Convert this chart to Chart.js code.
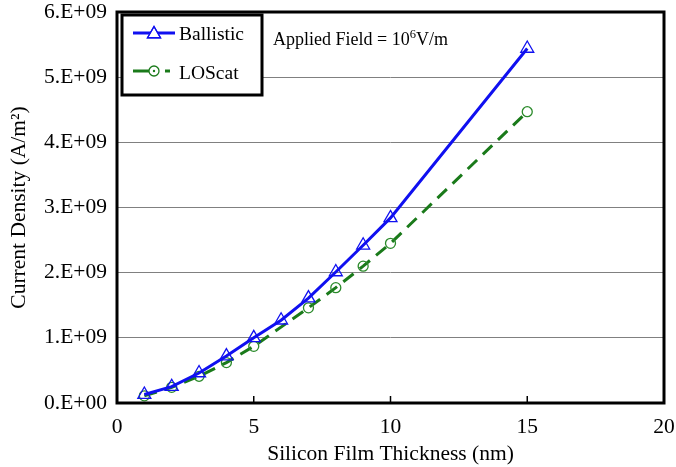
<!DOCTYPE html>
<html>
<head>
<meta charset="utf-8">
<script src="https://cdn.jsdelivr.net/npm/chart.js@4/dist/chart.umd.min.js"></script>
<style>
  html, body { margin: 0; padding: 0; background: #fff; }
  #wrap { width: 676px; height: 467px; position: relative; }
</style>
</head>
<body>
<div id="wrap"><canvas id="c" width="676" height="467"></canvas></div>
<script>
// Data
const ballisticThickness = [1, 2, 3, 4, 5, 6, 7, 8, 9, 10, 15];
const ballisticValues = [0.13e9, 0.25e9, 0.46e9, 0.72e9, 1.00e9, 1.27e9, 1.61e9, 2.01e9, 2.42e9, 2.84e9, 5.44e9];
const loscatThickness = [1, 2, 3, 4, 5, 7, 8, 9, 10, 15];
const loscatValues = [0.11e9, 0.24e9, 0.41e9, 0.62e9, 0.87e9, 1.46e9, 1.77e9, 2.10e9, 2.45e9, 4.47e9];
const xTickValues = [0, 5, 10, 15, 20];
const yTickLabels = ['0.E+00', '1.E+09', '2.E+09', '3.E+09', '4.E+09', '5.E+09', '6.E+09'];
const seriesNames = ['Ballistic', 'LOScat'];
const xTitle = 'Silicon Film Thickness (nm)';
const yTitle = 'Current Density (A/m\u00B2)';
const annotationMain = 'Applied Field = 10';
const annotationSup = '6';
const annotationTail = 'V/m';

const BLUE = '#1010f0';
const GREEN = '#1a7a1a';
const FONT = '"Liberation Serif", "Times New Roman", serif';

const toPoints = (xs, ys) => xs.map((x, i) => ({ x: x, y: ys[i] }));

const framePlugin = {
  id: 'frame',
  afterDraw(chart) {
    const { ctx, chartArea: a, scales } = chart;
    ctx.save();
    // inward x ticks
    ctx.strokeStyle = '#000';
    ctx.lineWidth = 1.5;
    xTickValues.slice(1, -1).forEach(v => {
      const px = scales.x.getPixelForValue(v);
      ctx.beginPath();
      ctx.moveTo(px, a.bottom);
      ctx.lineTo(px, a.bottom - 7);
      ctx.stroke();
    });
    // frame
    ctx.lineWidth = 3;
    ctx.strokeRect(a.left, a.top, a.right - a.left, a.bottom - a.top);

    // legend box
    const lx = a.left + 5, ly = a.top + 3, lw = 140, lh = 80;
    ctx.fillStyle = '#fff';
    ctx.fillRect(lx, ly, lw, lh);
    ctx.lineWidth = 3;
    ctx.strokeStyle = '#000';
    ctx.strokeRect(lx, ly, lw, lh);

    // Ballistic entry
    const y1 = ly + 18;
    ctx.strokeStyle = BLUE;
    ctx.lineWidth = 3;
    ctx.beginPath(); ctx.moveTo(lx + 11, y1); ctx.lineTo(lx + 53, y1); ctx.stroke();
    ctx.lineWidth = 1.3;
    Chart.helpers.drawPoint(ctx, { pointStyle: 'triangle', radius: 7.5, rotation: 0, borderWidth: 1.3 }, lx + 32, y1 + 1);
    ctx.stroke();
    // LOScat entry
    const y2 = ly + 56;
    ctx.strokeStyle = GREEN;
    ctx.lineWidth = 3;
    ctx.beginPath(); ctx.moveTo(lx + 11, y2); ctx.lineTo(lx + 27, y2); ctx.stroke();
    ctx.beginPath(); ctx.moveTo(lx + 43, y2); ctx.lineTo(lx + 48, y2); ctx.stroke();
    ctx.lineWidth = 1.3;
    ctx.beginPath(); ctx.arc(lx + 32, y2, 5, 0, Math.PI * 2); ctx.stroke();
    ctx.fillStyle = GREEN;
    ctx.beginPath(); ctx.arc(lx + 32, y2, 1.2, 0, Math.PI * 2); ctx.fill();

    ctx.fillStyle = '#000';
    ctx.font = '19.5px ' + FONT;
    ctx.textBaseline = 'alphabetic';
    ctx.textAlign = 'left';
    ctx.fillText(seriesNames[0], lx + 57, y1 + 7);
    ctx.fillText(seriesNames[1], lx + 57, y2 + 8);

    // annotation
    const ax = 273, ay = 45;
    ctx.font = '18px ' + FONT;
    ctx.fillText(annotationMain, ax, ay);
    let w = ctx.measureText(annotationMain).width;
    ctx.font = '12.5px ' + FONT;
    ctx.fillText(annotationSup, ax + w, ay - 7);
    w += ctx.measureText(annotationSup).width;
    ctx.font = '18px ' + FONT;
    ctx.fillText(annotationTail, ax + w, ay);
    ctx.restore();
  }
};

new Chart(document.getElementById('c'), {
  type: 'line',
  data: {
    datasets: [
      {
        label: seriesNames[0],
        data: toPoints(ballisticThickness, ballisticValues),
        borderColor: BLUE,
        borderWidth: 3,
        pointStyle: 'triangle',
        pointRadius: 7.5,
        pointBorderWidth: 1.3,
        pointBorderColor: BLUE,
        pointBackgroundColor: 'rgba(0,0,0,0)',
        tension: 0,
        fill: false
      },
      {
        label: seriesNames[1],
        data: toPoints(loscatThickness, loscatValues),
        borderColor: GREEN,
        borderWidth: 3,
        borderDash: [13, 8],
        pointStyle: 'circle',
        pointRadius: 5,
        pointBorderWidth: 1.3,
        pointBorderColor: '#2a8a2a',
        pointBackgroundColor: 'rgba(0,0,0,0)',
        tension: 0,
        fill: false
      }
    ]
  },
  plugins: [framePlugin],
  options: {
    responsive: false,
    animation: false,
    devicePixelRatio: 1,
    layout: { padding: { top: 12, right: 12, left: 0, bottom: 0 } },
    plugins: { legend: { display: false }, tooltip: { enabled: false } },
    scales: {
      x: {
        type: 'linear',
        min: 0, max: 20,
        afterBuildTicks(scale) { scale.ticks = xTickValues.map(v => ({ value: v })); },
        afterFit(scale) { scale.height = 64; scale.paddingLeft = 0; scale.paddingRight = 0; },
        grid: { display: false },
        border: { display: false },
        ticks: { color: '#000', font: { family: FONT, size: 21.5 }, padding: 3, maxRotation: 0 },
        title: { display: true, text: xTitle, color: '#000', font: { family: FONT, size: 21.5 }, padding: { top: 2, bottom: 0 } }
      },
      y: {
        min: 0, max: 6e9,
        afterBuildTicks(scale) { scale.ticks = yTickLabels.map((t, i) => ({ value: i * 1e9 })); },
        afterFit(scale) { scale.width = 117; scale.paddingTop = 0; scale.paddingBottom = 0; },
        grid: { color: '#808080', lineWidth: 1, drawTicks: false },
        border: { display: false },
        ticks: {
          color: '#000', font: { family: FONT, size: 21.5 }, padding: 10,
          callback: (v) => yTickLabels[Math.round(v / 1e9)]
        },
        title: { display: true, text: yTitle, color: '#000', font: { family: FONT, size: 21.5 }, padding: { top: 6, bottom: 4 } }
      }
    }
  }
});
</script>
</body>
</html>
